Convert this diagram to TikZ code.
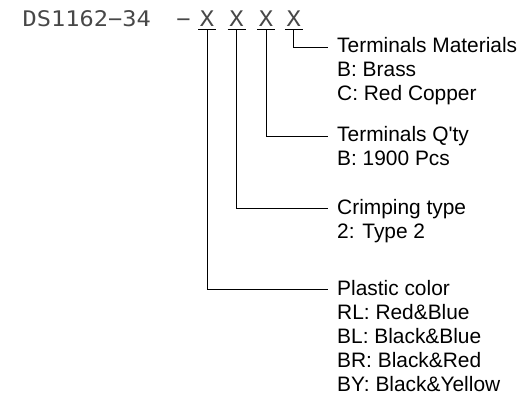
\documentclass[tikz,border=0pt]{standalone}
\usepackage{fontspec}
\setmainfont{Liberation Sans}
\newfontfamily\cadfont[FakeStretch=1.1]{DejaVu Sans Mono}
\begin{document}
\begin{tikzpicture}[x=1pt,y=-1pt,
  lbl/.style={anchor=base west, inner sep=0pt, font=\fontsize{20.9}{24.1}\selectfont},
  cad/.style={inner sep=0pt, text=black!72, font=\cadfont\fontsize{21.5}{26}\selectfont},
  conn/.style={line width=0.8pt, black}]
\useasboundingbox (0,0) rectangle (520,400);
% part number
\node[cad, anchor=base west] (pn) at (22.5,26.5) {DS1162−34};
\node[cad, anchor=base] (dash) at (183.5,26.5) {−};
\node[cad, anchor=base] (x1) at (207,26.5) {X};
\node[cad, anchor=base] (x2) at (236.5,26.5) {X};
\node[cad, anchor=base] (x3) at (266,26.5) {X};
\node[cad, anchor=base] (x4) at (293.8,26.5) {X};
% option blocks
\node[lbl] (m4) at (337,52.5) {\begin{tabular}[t]{@{}l@{}}Terminals Materials\\B: Brass\\C: Red Copper\end{tabular}};
\node[lbl] (m3) at (337,141.7) {\begin{tabular}[t]{@{}l@{}}Terminals Q\textquotesingle ty\\B: 1900 Pcs\end{tabular}};
\node[lbl] (m2) at (337,214.3) {\begin{tabular}[t]{@{}l@{}}Crimping type\\2: Type 2\end{tabular}};
\node[lbl] (m1) at (337,295) {\begin{tabular}[t]{@{}l@{}}Plastic color\\RL: Red\&Blue\\BL: Black\&Blue\\BR: Black\&Red\\BY: Black\&Yellow\end{tabular}};
% underlines
\foreach \n in {x1,x2,x3,x4}{
  \draw[conn] ([xshift=-9pt,yshift=-2.5pt]\n.base) -- ([xshift=9pt,yshift=-2.5pt]\n.base);
}
% connectors
\draw[conn] ([yshift=-2.5pt]x4.base) |- ([xshift=-9pt,yshift=5.3pt]m4.base west);
\draw[conn] ([yshift=-2.5pt]x3.base) |- ([xshift=-9pt,yshift=5.5pt]m3.base west);
\draw[conn] ([yshift=-2.5pt]x2.base) |- ([xshift=-9pt,yshift=5.5pt]m2.base west);
\draw[conn] ([yshift=-2.5pt]x1.base) |- ([xshift=-9pt,yshift=5.5pt]m1.base west);
\end{tikzpicture}
\end{document}
